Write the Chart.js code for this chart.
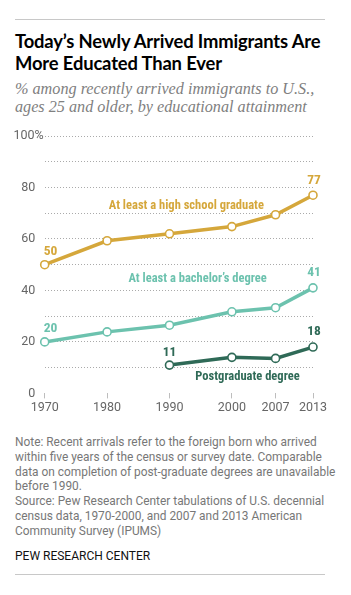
<!DOCTYPE html>
<html>
<head>
<meta charset="utf-8">
<script src="https://cdn.jsdelivr.net/npm/chart.js@4.4.1/dist/chart.umd.min.js"></script>
<style>
  html, body { margin: 0; padding: 0; background: #fff; }
  body { width: 351px; height: 595px; position: relative; overflow: hidden; }
  .rule { position: absolute; left: 15px; width: 310px; height: 1px; background: #c8c8c8; }
  #title { position: absolute; left: 15px; top: 30px; font-family: "Lato", "Roboto", sans-serif; font-weight: 700; font-size: 18.4px; line-height: 22px; color: #000; letter-spacing: -0.15px; }
  #subtitle { position: absolute; left: 15px; top: 80px; font-family: "Liberation Serif", "DejaVu Serif", serif; font-style: italic; font-size: 16.2px; line-height: 18px; color: #808080; }
  #chartWrap { position: absolute; left: 0; top: 120px; width: 351px; height: 300px; }
  #note { position: absolute; left: 15px; top: 435px; white-space: nowrap; font-family: "Roboto", "Liberation Sans", sans-serif; font-size: 11.9px; line-height: 14.8px; color: #777; }
  #pew { position: absolute; left: 15px; top: 549px; font-family: "Roboto", "Liberation Sans", sans-serif; font-size: 12px; color: #111; }
</style>
</head>
<body>
<div class="rule" style="top:19px"></div>
<div id="title">Today’s Newly Arrived Immigrants Are<br>More Educated Than Ever</div>
<div id="subtitle">% among recently arrived immigrants to U.S.,<br>ages 25 and older, by educational attainment</div>
<div id="chartWrap"><canvas id="c" width="351" height="300"></canvas></div>
<div id="note">Note: Recent arrivals refer to the foreign born who arrived<br>within five years of the census or survey date. Comparable<br>data on completion of post-graduate degrees are unavailable<br>before 1990.<br>Source: Pew Research Center tabulations of U.S. decennial<br>census data, 1970-2000, and 2007 and 2013 American<br>Community Survey (IPUMS)</div>
<div id="pew">PEW RESEARCH CENTER</div>
<div class="rule" style="top:574px"></div>

<script>
// ---- Data ----
const years = [1970, 1980, 1990, 2000, 2007, 2013];
const highSchool = [50, 59.3, 62, 64.8, 69.4, 77];
const bachelor = [20, 23.9, 26.5, 31.7, 33.3, 41];
const postgrad = [null, null, 11, 14, 13.6, 18];
const seriesNames = ["At least a high school graduate", "At least a bachelor’s degree", "Postgraduate degree"];
const yTicks = [0, 20, 40, 60, 80, 100];
const shownValues = [["50", "77"], ["20", "41"], ["11", "18"]];

const colors = ["#D5A73B", "#6CC2AE", "#2F6A57"];

// label anchors in data coordinates (year, value)
const nameAnchors = [[1992.7, 73], [1994.5, 44.5], [2002.5, 6.5]];

function mkData(vals) {
  return years.map((y, i) => ({ x: y, y: vals[i] }));
}

const labelPlugin = {
  id: 'labels',
  afterDatasetsDraw(chart) {
    const ctx = chart.ctx;
    const xs = chart.scales.x, ys = chart.scales.y;
    ctx.save();
    ctx.textBaseline = 'middle';
    chart.data.datasets.forEach((ds, di) => {
      ctx.fillStyle = colors[di];
      ctx.font = 'bold 12.5px "Liberation Sans Narrow", "Roboto Condensed", "DejaVu Sans Condensed", sans-serif';
      ctx.textAlign = 'center';
      ctx.fillText(seriesNames[di], xs.getPixelForValue(nameAnchors[di][0]), ys.getPixelForValue(nameAnchors[di][1]));
      const pts = ds.data.filter(p => p.y !== null);
      const first = pts[0], last = pts[pts.length - 1];
      ctx.font = 'bold 13.5px "Liberation Sans Narrow", "Roboto Condensed", "DejaVu Sans Condensed", sans-serif';
      const fx = xs.getPixelForValue(first.x), fy = ys.getPixelForValue(first.y);
      if (first.x === years[0]) { ctx.textAlign = 'left'; ctx.fillText(shownValues[di][0], fx - 1, fy - 13.5); }
      else { ctx.textAlign = 'center'; ctx.fillText(shownValues[di][0], fx, fy - 12); }
      ctx.textAlign = 'center';
      ctx.fillText(shownValues[di][1], xs.getPixelForValue(last.x) + 1, ys.getPixelForValue(last.y) - 15);
    });
    ctx.restore();
  }
};

new Chart(document.getElementById('c'), {
  type: 'line',
  data: {
    datasets: [highSchool, bachelor, postgrad].map((vals, i) => ({
      label: seriesNames[i],
      data: mkData(vals),
      borderColor: colors[i],
      backgroundColor: '#fff',
      pointBackgroundColor: '#fff',
      pointBorderColor: colors[i],
      pointBorderWidth: 1.6,
      pointRadius: 4,
      borderWidth: 3.5,
      tension: 0,
      spanGaps: false,
      clip: false
    }))
  },
  options: {
    responsive: false,
    animation: false,
    events: [],
    layout: { padding: { left: 0, right: 38, top: 16, bottom: 0 } },
    plugins: { legend: { display: false }, tooltip: { enabled: false } },
    scales: {
      x: {
        type: 'linear',
        min: 1970, max: 2013,
        afterBuildTicks(scale) { scale.ticks = years.map(v => ({ value: v })); },
        afterFit(scale) { scale.height = 26.6; },
        grid: { drawOnChartArea: false, drawTicks: true, tickLength: 5, color: '#bdbdbd', tickWidth: 1 },
        border: { display: false },
        ticks: { padding: 2, color: '#666', font: { family: 'Roboto, "Liberation Sans", sans-serif', size: 12.5 }, autoSkip: false, maxRotation: 0, callback: v => String(v) }
      },
      y: {
        min: 0, max: 100,
        afterBuildTicks(scale) {
          const t = [];
          for (let v = 0; v <= 100; v += 10) t.push({ value: v });
          scale.ticks = t;
        },
        afterFit(scale) { scale.width = 44.7; },
        grid: {
          drawTicks: false,
          color: ctx => (ctx.tick && ctx.tick.value === 0) ? 'rgba(0,0,0,0)' : '#aaaaaa',
          lineWidth: 1
        },
        border: { display: false, dash: [1, 2] },
        ticks: {
          padding: 1,
          color: '#666',
          font: { family: 'Roboto, "Liberation Sans", sans-serif', size: 12.5 },
          callback: v => yTicks.includes(v) ? (v === 100 ? '100%' : v + '\u2007\u200A') : ''
        }
      }
    }
  },
  plugins: [labelPlugin]
});
</script>
</body>
</html>
